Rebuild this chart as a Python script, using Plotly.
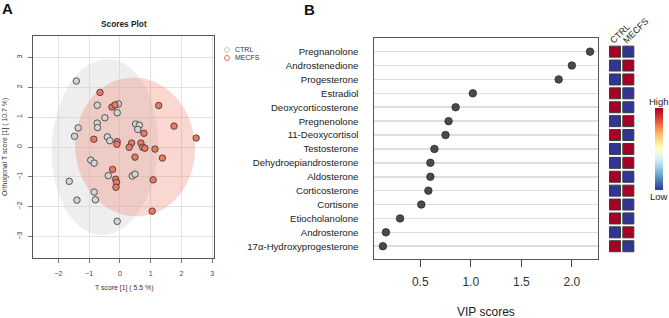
import numpy as np
import plotly.graph_objects as go
import plotly.colors as pc

# ---------------- Data: panel A (OPLS-DA scores) ----------------
ctrl_t = [-1.42, -0.74, -0.05, -0.09, -0.49, -0.74, -0.73, -1.36, -1.48, -0.41, -0.33, 0.51,
          0.63, 0.58, -0.95, -0.84, -0.38, 0.40, 0.49, -1.65, -0.84, -1.40, -0.80, -0.09]
ctrl_o = [2.21, 1.40, 1.44, 1.15, 0.98, 0.80, 0.65, 0.64, 0.36, 0.34, 0.21, 0.77,
          0.73, 0.59, -0.44, -0.54, -0.96, -0.97, -0.91, -1.15, -1.51, -1.78, -1.77, -2.49]
mecfs_t = [-0.65, -0.26, -0.16, 1.26, -0.85, -0.09, -0.10, 0.78, 1.76, 2.48, 0.38, 0.68,
           0.30, 0.74, 0.81, 1.14, 0.49, 1.38, -0.24, -0.14, -0.11, -0.13, 1.08, 1.05]
mecfs_o = [1.83, 1.34, 1.41, 1.39, 0.26, 0.18, 0.09, 0.46, 0.70, 0.30, 0.13, 0.13,
           -0.01, -0.01, -0.04, -0.07, -0.34, -0.37, -0.75, -1.08, -1.19, -1.35, -1.10, -2.15]
# ellipse estimates: centre x, centre y, half-width, half-height, tilt (deg)
ctrl_ellipse = [-0.49, 0.0, 1.73, 2.95, -2.5]
mecfs_ellipse = [0.49, 0.0, 1.95, 2.33, 4.0]
scores_xticks = [-2, -1, 0, 1, 2, 3]
scores_yticks = [-3, -2, -1, 0, 1, 2, 3]

# ---------------- Data: panel B (VIP scores) ----------------
metabolites = ["Pregnanolone", "Androstenedione", "Progesterone", "Estradiol",
               "Deoxycorticosterone", "Pregnenolone", "11-Deoxycortisol", "Testosterone",
               "Dehydroepiandrosterone", "Aldosterone", "Corticosterone", "Cortisone",
               "Etiocholanolone", "Androsterone", "17α-Hydroxyprogesterone"]
vip = [2.18, 2.00, 1.87, 1.02, 0.85, 0.78, 0.75, 0.64, 0.60, 0.60, 0.58, 0.51, 0.30, 0.16, 0.13]
groups = ["CTRL", "MECFS"]
# 1 = High, 0 = Low
ctrl_level = [1, 0, 0, 1, 1, 0, 1, 0, 0, 1, 0, 1, 1, 0, 1]
mecfs_level = [0, 1, 1, 0, 0, 1, 0, 1, 1, 0, 1, 0, 0, 1, 0]
vip_ticks = [0.5, 1.0, 1.5, 2.0]
vip_ticktext = ["0.5", "1.0", "1.5", "2.0"]

W, H = 669, 318
FONT = "Liberation Sans, Arial, Helvetica, sans-serif"


def px(x):
    return x / W


def py(y):
    return 1 - y / H


def ellipse(params, n=200):
    cx, cy, a, b, ang = params
    t = np.linspace(0, 2 * np.pi, n)
    r = np.deg2rad(ang)
    ex = a * np.cos(t)
    ey = b * np.sin(t)
    x = cx + ex * np.cos(r) - ey * np.sin(r)
    y = cy + ex * np.sin(r) + ey * np.cos(r)
    return x, y


fig = go.Figure()

# ellipses
gx, gy = ellipse(ctrl_ellipse)
fig.add_trace(go.Scatter(x=gx, y=gy, mode="lines", fill="toself", line=dict(width=0),
                         fillcolor="rgba(210,210,210,0.38)", hoverinfo="skip",
                         showlegend=False, xaxis="x", yaxis="y"))
rx, ry = ellipse(mecfs_ellipse)
fig.add_trace(go.Scatter(x=rx, y=ry, mode="lines", fill="toself", line=dict(width=0),
                         fillcolor="rgba(238,130,110,0.32)", hoverinfo="skip",
                         showlegend=False, xaxis="x", yaxis="y"))

# points
fig.add_trace(go.Scatter(x=ctrl_t, y=ctrl_o, mode="markers", name="CTRL",
                         marker=dict(size=6.5, color="#d4d4d4", line=dict(color="#333333", width=0.8)),
                         showlegend=False, xaxis="x", yaxis="y"))
fig.add_trace(go.Scatter(x=mecfs_t, y=mecfs_o, mode="markers", name="MECFS",
                         marker=dict(size=6.5, color="#ec7763", line=dict(color="#333333", width=0.8)),
                         showlegend=False, xaxis="x", yaxis="y"))

# VIP dot plot
rows = list(range(len(metabolites)))
fig.add_trace(go.Scatter(x=vip, y=rows, mode="markers",
                         marker=dict(size=7.5, color="#4a4a4a", line=dict(color="#2a2a2a", width=0.8)),
                         showlegend=False, xaxis="x2", yaxis="y2"))

# heatmap squares
rdylbu_r = pc.diverging.RdYlBu[::-1]
cscale = [[i / (len(rdylbu_r) - 1), c] for i, c in enumerate(rdylbu_r)]
hx = [0] * len(rows) + [1] * len(rows)
hy = rows + rows
hv = ctrl_level + mecfs_level
fig.add_trace(go.Scatter(
    x=hx, y=hy, mode="markers", showlegend=False, xaxis="x3", yaxis="y3",
    marker=dict(symbol="square", size=11, color=hv, colorscale=cscale, cmin=0, cmax=1,
                line=dict(color="#3a3a3a", width=1),
                showscale=True,
                colorbar=dict(x=px(655), xanchor="left", y=py(149), yanchor="middle",
                              len=82, lenmode="pixels", thickness=8, thicknessmode="pixels",
                              outlinewidth=0, showticklabels=False, ticks="", xpad=0, ypad=0))))

axis_common = dict(showline=True, mirror=True, zeroline=False, automargin=False)

fig.update_layout(
    width=W, height=H, margin=dict(l=0, r=0, t=0, b=0, autoexpand=False),
    paper_bgcolor="white", plot_bgcolor="white",
    font=dict(family=FONT, color="#222222"),
    showlegend=False,
    xaxis=dict(domain=[px(33.3), px(214.3)], range=[-2.82, 3.07], tickvals=scores_xticks,
               anchor="y",
               ticks="outside", ticklen=4, tickcolor="#555555", tickwidth=0.8,
               linecolor="#555555", linewidth=1, showgrid=True, gridcolor="#e2e2e2", gridwidth=1,
               tickfont=dict(size=7, color="#444444"), ticklabelstandoff=4, **axis_common),
    yaxis=dict(domain=[py(258.3), py(36)], range=[-3.73, 3.72], tickvals=scores_yticks,
               anchor="x",
               ticks="outside", ticklen=4, tickcolor="#555555", tickwidth=0.8, tickangle=-90,
               linecolor="#555555", linewidth=1, showgrid=True, gridcolor="#e2e2e2", gridwidth=1,
               tickfont=dict(size=7, color="#444444"), ticklabelstandoff=4, **axis_common),
    xaxis2=dict(domain=[px(374.3), px(597.7)], range=[0.045, 2.256], tickvals=vip_ticks,
                anchor="y2",
                ticktext=vip_ticktext, ticks="outside", ticklen=7, tickcolor="#444444",
                linecolor="#555555", linewidth=1, showgrid=False,
                tickfont=dict(size=12, color="#333333"), ticklabelstandoff=4, **axis_common),
    yaxis2=dict(domain=[py(259.3), py(38.3)], range=[14.94, -0.96], tickvals=rows,
                anchor="x2",
                ticktext=metabolites, ticks="", showgrid=True, gridcolor="#dedede", gridwidth=1.6,
                linecolor="#555555", linewidth=1, ticklabelstandoff=13,
                tickfont=dict(size=9.6, color="#222222"), **axis_common),
    xaxis3=dict(domain=[px(608.3), px(635)], range=[-0.5, 1.5], visible=False, automargin=False,
                anchor="y3"),
    yaxis3=dict(domain=[py(259.3), py(38.3)], range=[14.94, -0.96], visible=False, automargin=False,
                anchor="x3"),
)

ann = []
ann.append(dict(text="<b>A</b>", x=px(0), y=py(9), xanchor="left", yanchor="middle",
                font=dict(size=15, color="#111111")))
ann.append(dict(text="<b>B</b>", x=px(302), y=py(10), xanchor="left", yanchor="middle",
                font=dict(size=15, color="#111111")))
ann.append(dict(text="<b>Scores Plot</b>", x=px(124), y=py(24), xanchor="center", yanchor="middle",
                font=dict(size=8.3, color="#222222")))
ann.append(dict(text="T score [1] ( 5.5 %)", x=px(124), y=py(288), xanchor="center", yanchor="middle",
                font=dict(size=6.9, color="#333333")))
ann.append(dict(text="Orthogonal T score [1] ( 10.7 %)", x=px(5), y=py(147), xanchor="center",
                yanchor="middle", textangle=-90, font=dict(size=6.9, color="#333333")))
ann.append(dict(text="CTRL", x=px(233), y=py(50), xanchor="left", yanchor="middle",
                font=dict(size=7, color="#333333")))
ann.append(dict(text="MECFS", x=px(233), y=py(58), xanchor="left", yanchor="middle",
                font=dict(size=7, color="#333333")))
ann.append(dict(text="VIP scores", x=px(486), y=py(311.5), xanchor="center", yanchor="middle",
                font=dict(size=12, color="#222222")))
ann.append(dict(text="CTRL", x=px(619.5), y=py(33.5), xanchor="center", yanchor="middle",
                textangle=-45, font=dict(size=9, color="#222222")))
ann.append(dict(text="MECFS", x=px(635.5), y=py(31), xanchor="center", yanchor="middle",
                textangle=-45, font=dict(size=9, color="#222222")))
ann.append(dict(text="High", x=px(659), y=py(101), xanchor="center", yanchor="middle",
                font=dict(size=9.5, color="#222222")))
ann.append(dict(text="Low", x=px(659), y=py(196), xanchor="center", yanchor="middle",
                font=dict(size=9.5, color="#222222")))
for a in ann:
    a.update(xref="paper", yref="paper", showarrow=False)
fig.update_layout(annotations=ann)

# legend keys (open circles)
shapes = []
for yy, col in [(50, "#c8c8c8"), (58, "#e8705c")]:
    shapes.append(dict(type="circle", xref="paper", yref="paper",
                       x0=px(224.5), x1=px(229.5), y0=py(yy + 2.5), y1=py(yy - 2.5),
                       line=dict(color=col, width=1)))
fig.update_layout(shapes=shapes)

fig.write_html("out.html", config={"displayModeBar": False, "staticPlot": True},
               post_script="document.body.style.margin='0';document.body.style.padding='0';"
                           "document.body.style.overflow='hidden';")
